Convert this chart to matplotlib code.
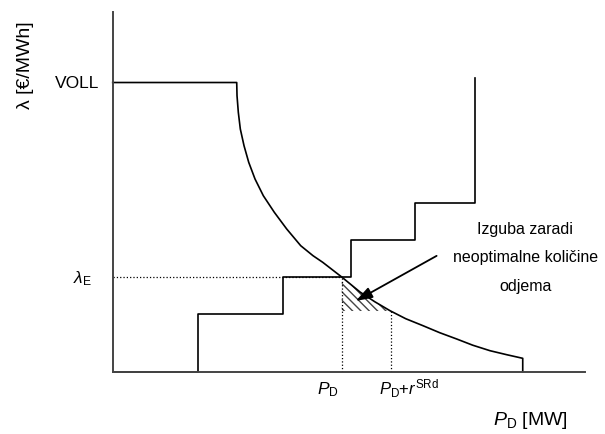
import numpy as np
import matplotlib
matplotlib.use("Agg")
import matplotlib.pyplot as plt

plt.rcParams['font.family'] = ['Liberation Sans', 'DejaVu Sans']
plt.rcParams['mathtext.fontset'] = 'custom'
plt.rcParams['mathtext.rm'] = 'Liberation Sans'
plt.rcParams['mathtext.it'] = 'Liberation Sans:italic'
plt.rcParams['mathtext.bf'] = 'Liberation Sans:bold'
plt.rcParams['hatch.linewidth'] = 1.0

# supply (stepped offer curve)
supply_x = [0, 85, 170, 238, 302, 362]
supply_y = [0, 57.4, 94.7, 131.7, 168.7, 293.7]

# demand curve (VOLL then falling)
demand_x = [0, 124, 124.3, 125.6, 127.6, 131.3, 136, 142.3, 150.6, 161.6, 174, 188, 200.3,
            210, 229, 247.3, 262, 277.3, 293, 310.3, 327, 344, 360, 377.3, 394, 410, 410]
demand_y = [289.2, 289.2, 276, 259.4, 242.7, 226, 209.4, 192.7, 176, 159.4, 142.7, 126, 116,
            109.4, 94.7, 79.7, 70, 61, 53, 46, 39, 32.7, 26.5, 21, 17, 13.4, 0]

voll = 289.2
lam_e = 94.7
p_d = 229
p_d_r = 278
loss_floor = 60.7

fig = plt.figure(figsize=(6.05, 4.35), dpi=100)
ax = fig.add_axes([0.1863, 0.1432, 0.7807, 0.8262])
ax.set_xlim(0, 472.3)
ax.set_ylim(0, 359.4)
for s in ['top', 'right']:
    ax.spines[s].set_visible(False)
for s in ['left', 'bottom']:
    ax.spines[s].set_color('#444444')
    ax.spines[s].set_linewidth(1.4)
ax.set_xticks([])
ax.set_yticks([])

ax.plot(supply_x, supply_y, drawstyle='steps-post', color='black', lw=1.2, clip_on=False)
ax.plot(demand_x, demand_y, color='black', lw=1.2, clip_on=False)

# dotted guide lines
ax.plot([0, p_d], [lam_e, lam_e], ls=':', color='black', lw=0.9)
ax.plot([p_d, p_d], [0, lam_e], ls=':', color='black', lw=0.9)
ax.plot([p_d_r, p_d_r], [0, loss_floor], ls=':', color='black', lw=0.9)

# hatched loss area
dx = np.array(demand_x[2:-1])
dy = np.array(demand_y[2:-1])
m = (dx > p_d) & (dx < p_d_r)
hx = np.concatenate([[p_d], dx[m], [p_d_r]])
hy = np.concatenate([[lam_e], dy[m], [loss_floor]])
ax.fill_between(hx, loss_floor, hy, facecolor='none', edgecolor='#444444',
                hatch='\\\\\\\\', linewidth=0)

ax.annotate('', xy=(240.6, 69.4), xytext=(326.3, 117.2),
            arrowprops=dict(arrowstyle='-|>,head_length=0.5,head_width=0.17',
                            color='black', lw=1.3, mutation_scale=20))

fs = 11.5
ax.text(412.5, 143.7, 'Izguba zaradi', ha='center', va='center', fontsize=fs)
ax.text(412.5, 115.7, 'neoptimalne količine', ha='center', va='center', fontsize=fs)
ax.text(412.5, 86.7, 'odjema', ha='center', va='center', fontsize=fs)

ax.text(-13.7, voll, 'VOLL', ha='right', va='center', fontsize=12.5, clip_on=False)
ax.text(-20.7, 94, r'$\mathit{\lambda}_{\mathrm{E}}$', ha='right', va='center', fontsize=12.5, clip_on=False)
ax.text(-87.7, 307.7, 'λ [€/MWh]', ha='center', va='center', rotation=90, fontsize=14, clip_on=False)

ax.text(214.8, -17.3, r'$P_{\mathrm{D}}$', ha='center', va='center', fontsize=12.5, clip_on=False)
ax.text(266.3, -16, r'$P_{\mathrm{D}}$+$r^{\mathrm{SRd}}$', ha='left', va='center', fontsize=12, clip_on=False)
ax.text(380, -47.3, r'$P_{\mathrm{D}}$ [MW]', ha='left', va='center', fontsize=14, clip_on=False)

fig.savefig('out.png', dpi=100)
